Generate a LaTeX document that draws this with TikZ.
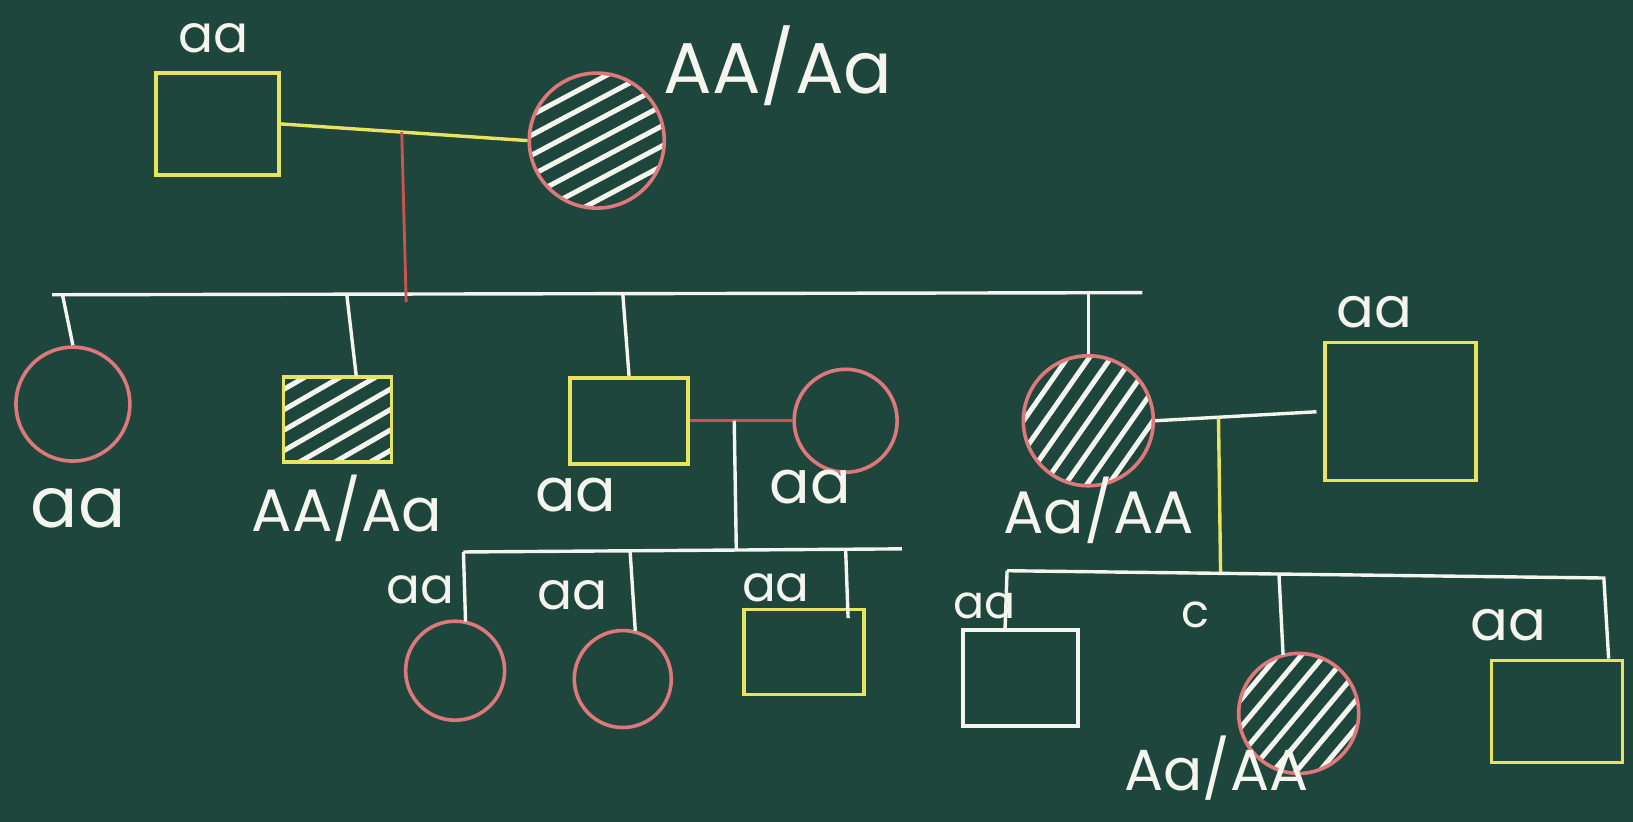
\documentclass[tikz,border=0pt]{standalone}
\usepackage{fontspec}
\setmainfont{Poppins}
\usetikzlibrary{calc}
\definecolor{board}{RGB}{31,70,60}
\definecolor{cy}{RGB}{232,228,96}
\definecolor{cp}{RGB}{222,120,124}
\definecolor{cr}{RGB}{205,82,82}
\definecolor{chalk}{RGB}{245,245,240}
\tikzset{
 ind/.style={inner sep=0pt, line width=3.6pt},
 male/.style={ind, rectangle, draw=cy},
 female/.style={ind, circle, draw=cp},
 wsq/.style={ind, rectangle, draw=chalk},
 hatch/.style={path picture={
   \foreach \k in {-7,...,7}
     \draw[chalk, line width=5pt, line cap=round]
       ($(path picture bounding box.center)+({-120*cos(#1)-\k*17*sin(#1)},{120*sin(#1)-\k*17*cos(#1)})$)
       -- ($(path picture bounding box.center)+({120*cos(#1)-\k*17*sin(#1)},{-120*sin(#1)-\k*17*cos(#1)})$);
   }},
 wline/.style={chalk, line width=3.4pt},
 yline/.style={cy, line width=3.4pt},
 rline/.style={cr, line width=2.8pt},
 lbl/.style={text=chalk, inner sep=0pt, font=\fontsize{#1}{#1}\selectfont},
}
\begin{document}
\begin{tikzpicture}[x=1.0415pt, y=-1.0415pt]
\fill[board] (0,0) rectangle (1568,789);
\useasboundingbox (0,0) rectangle (1568,789);
% generation I
\node[male, minimum width=123pt, minimum height=102pt] (gf) at (209,119) {};
\node[female, hatch=28, minimum size=135pt] (gm) at (573,135) {};
% generation II
\node[female, minimum size=114pt] (c1) at (70,388) {};
\node[male, hatch=30, minimum width=108pt, minimum height=85pt] (c2) at (324,403) {};
\node[male, minimum width=118pt, minimum height=86pt] (c3) at (604,404) {};
\node[female, minimum size=103pt] (c3w) at (812,404) {};
\node[female, hatch=55, minimum size=130pt] (c4) at (1045,404) {};
\node[male, minimum width=151pt, minimum height=138pt] (c4h) at (1345,395) {};
% generation III
\node[female, minimum size=99pt] (g1) at (437,644) {};
\node[female, minimum size=97pt] (g2) at (598,652) {};
\node[male, minimum width=120pt, minimum height=85pt] (g3) at (772,626) {};
\node[wsq, minimum width=115pt, minimum height=96pt] (g4) at (980,651) {};
\node[female, hatch=50, minimum size=120pt] (g5) at (1247,685) {};
\node[male, minimum width=131pt, minimum height=102pt] (g6) at (1495,683) {};

% coordinates
\coordinate (m1) at ($(gf.east)!0.49!(gm.west)$);
\coordinate (m1b) at (390,290);
\coordinate (s1l) at (50,283);
\coordinate (s1r) at (1097,281);
\coordinate (d11) at (60,283);
\coordinate (d12) at (333,283);
\coordinate (d13) at (598,282);
\coordinate (d14) at (1045,281);
\coordinate (m2) at (705,404);
\coordinate (m2b) at (707,528);
\coordinate (s2l) at (445,530);
\coordinate (s2r) at (866,527);
\coordinate (d21) at (445,530);
\coordinate (d22) at (605,529);
\coordinate (d23) at (812,528);
\coordinate (m3) at (1170,401);
\coordinate (m3b) at (1172,550);
\coordinate (s3l) at (967,548);
\coordinate (s3r) at (1540,555);
\coordinate (d31) at (967,548);
\coordinate (d32) at (1228,550);

% connectors
\draw[yline] (gf.east) -- (gm.west);
\draw[wline] (s1l) -- (s1r);
\draw[rline] (m1) -- (m1b);
\draw[wline] (d11) -- (c1.north);
\draw[wline] (d12) -- ($(c2.north)+(18,0)$);
\draw[wline] (d13) -- (c3.north);
\draw[wline] (d14) -- (c4.north);
\draw[rline] (c3.east) -- (c3w.west);
\draw[wline] (m2) -- (m2b);
\draw[wline] (s2l) -- (s2r);
\draw[wline] (d21) -- ($(g1.north)+(10,2)$);
\draw[wline] (d22) -- ($(g2.north)+(12,2)$);
\draw[wline] (d23) -- ($(g3.north east)+(-17,10)$);
\draw[wline, shorten >=7pt] (c4.east) -- (c4h.west);
\draw[yline] (m3) -- (m3b);
\draw[wline] (s3l) -- (s3r) -- ($(g6.north east)+(-15,0)$);
\draw[wline] (d31) -- ($(g4.north west)+(42,0)$);
\draw[wline] (d32) -- ($(g5.north)+(-15,3)$);

% labels
\node[lbl=52] (t1) at (205,37) {aa};
\node[lbl=72] (t2) at (747,63) {AA/Aa};
\node[lbl=70] (t3) at (75,488) {aa};
\node[lbl=60] (t4) at (333,488) {AA/Aa};
\node[lbl=60] (t5) at (553,475) {aa};
\node[lbl=60] (t6) at (778,468) {aa};
\node[lbl=60] (t7) at (1055,490) {Aa/AA};
\node[lbl=56] (t8) at (1320,300) {aa};
\node[lbl=50] (t9) at (404,566) {aa};
\node[lbl=52] (t10) at (550,572) {aa};
\node[lbl=50] (t11) at (745,564) {aa};
\node[lbl=46] (t12) at (945,582) {aa};
\node[lbl=46] (t13) at (1148,590) {c};
\node[lbl=56] (t14) at (1448,600) {aa};
\node[lbl=58] (t15) at (1168,738) {Aa/AA};
\end{tikzpicture}
\end{document}
